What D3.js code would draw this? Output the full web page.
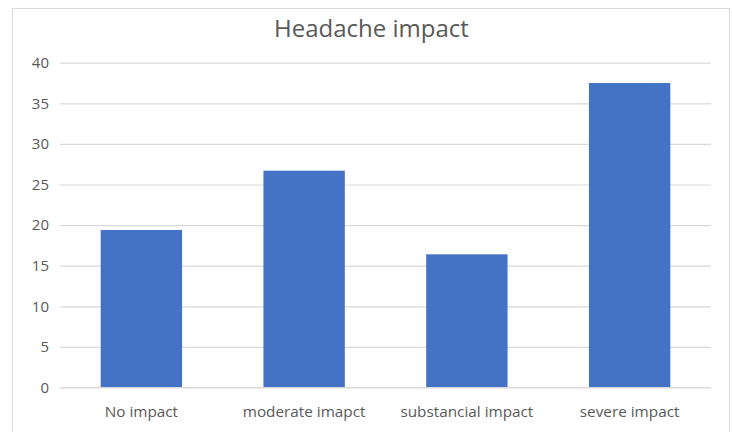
<!DOCTYPE html>
<html>
<head>
<meta charset="utf-8">
<script src="https://cdn.jsdelivr.net/npm/d3@7"></script>
<style>
  html, body { margin: 0; padding: 0; background: #ffffff; }
  svg { display: block; }
  text { font-family: "Open Sans", "Noto Sans", sans-serif; fill: #595959; }
</style>
</head>
<body>
<svg id="chart" width="732" height="432"></svg>
<script>
// Headache impact survey: share of respondents per category
const categories = ["No impact", "moderate imapct", "substancial impact", "severe impact"];
const values = [19.4, 26.7, 16.4, 37.5];
const yTicks = [0, 5, 10, 15, 20, 25, 30, 35, 40];
const chartTitle = "Headache impact";

const svg = d3.select("#chart");
const plot = { left: 60, right: 711, top: 62.7, bottom: 387.5 };

// chart area frame
svg.append("rect")
  .attr("x", 12.5).attr("y", 8.5)
  .attr("width", 717).attr("height", 440)
  .attr("fill", "#ffffff")
  .attr("stroke", "#d9d9d9")
  .attr("stroke-width", 1);

const x = d3.scaleBand()
  .domain(categories)
  .range([plot.left, plot.right])
  .paddingInner(0.5)
  .paddingOuter(0.25);

const y = d3.scaleLinear()
  .domain([0, 40])
  .range([plot.bottom, plot.top]);

// horizontal gridlines + value labels
const yAxis = d3.axisLeft(y)
  .tickValues(yTicks)
  .tickSize(-(plot.right - plot.left))
  .tickPadding(11)
  .tickFormat(d3.format("d"));

const gy = svg.append("g")
  .attr("transform", `translate(${plot.left},0)`)
  .call(yAxis);
gy.select(".domain").remove();
gy.selectAll(".tick line")
  .attr("stroke", "#d9d9d9")
  .attr("stroke-width", 1.2);
gy.selectAll(".tick text")
  .attr("font-size", 15)
  .attr("fill", "#595959")
  .style("font-family", "'Open Sans', sans-serif");

// bars
svg.append("g")
  .selectAll("rect")
  .data(values)
  .join("rect")
  .attr("x", (d, i) => x(categories[i]))
  .attr("y", d => y(d))
  .attr("width", x.bandwidth())
  .attr("height", d => y(0) - y(d))
  .attr("fill", "#4472c4");

// baseline
svg.append("line")
  .attr("x1", plot.left).attr("x2", plot.right)
  .attr("y1", y(0)).attr("y2", y(0))
  .attr("stroke", "#d9d9d9")
  .attr("stroke-width", 1.2);

// category labels
const xAxis = d3.axisBottom(x).tickSize(0).tickPadding(0);
const gx = svg.append("g")
  .attr("transform", `translate(0,${plot.bottom})`)
  .call(xAxis);
gx.select(".domain").remove();
gx.selectAll(".tick text")
  .attr("y", 29)
  .attr("dy", 0)
  .attr("font-size", 15.3)
  .attr("fill", "#595959")
  .style("font-family", "'Open Sans', sans-serif");

// title
svg.append("text")
  .attr("x", 371.5)
  .attr("y", 37)
  .attr("text-anchor", "middle")
  .attr("font-size", 24)
  .text(chartTitle);
</script>
</body>
</html>
